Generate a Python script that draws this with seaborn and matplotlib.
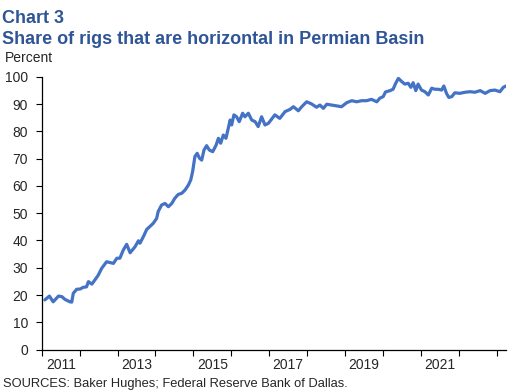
import numpy as np
import pandas as pd
import matplotlib
matplotlib.use("Agg")
import matplotlib.pyplot as plt
import seaborn as sns

# ---------------------------------------------------
# data (decimal years)
# ---------------------------------------------------
years = [
    2011.08, 2011.20, 2011.30, 2011.44, 2011.53, 2011.61, 2011.74, 2011.79, 2011.83, 2011.92,
    2012.01, 2012.09, 2012.18, 2012.23, 2012.32, 2012.40, 2012.49, 2012.58, 2012.71, 2012.80,
    2012.89, 2012.98, 2013.06, 2013.15, 2013.24, 2013.33, 2013.46, 2013.55, 2013.59, 2013.68,
    2013.77, 2013.85, 2013.94, 2014.03, 2014.07, 2014.16, 2014.25, 2014.34, 2014.43, 2014.51,
    2014.60, 2014.69, 2014.78, 2014.87, 2014.93, 2014.98, 2015.04, 2015.10, 2015.16, 2015.22,
    2015.28, 2015.35, 2015.42, 2015.51, 2015.60, 2015.66, 2015.72, 2015.79, 2015.86, 2015.92,
    2015.97, 2016.01, 2016.07, 2016.14, 2016.21, 2016.30, 2016.36, 2016.45, 2016.54, 2016.63,
    2016.71, 2016.80, 2016.89, 2016.98, 2017.15, 2017.28, 2017.42, 2017.55, 2017.64, 2017.77,
    2017.86, 2017.99, 2018.12, 2018.25, 2018.34, 2018.43, 2018.52, 2018.65, 2018.78, 2018.91,
    2019.05, 2019.18, 2019.31, 2019.44, 2019.57, 2019.70, 2019.84, 2019.92, 2020.01, 2020.07,
    2020.19, 2020.27, 2020.34, 2020.41, 2020.50, 2020.58, 2020.67, 2020.74, 2020.80, 2020.87,
    2020.93, 2021.02, 2021.11, 2021.20, 2021.29, 2021.37, 2021.46, 2021.55, 2021.61, 2021.68,
    2021.74, 2021.82, 2021.90, 2022.03, 2022.17, 2022.30, 2022.43, 2022.57, 2022.70, 2022.83,
    2022.96, 2023.09, 2023.18, 2023.25,
]
share = [
    18.2, 19.6, 17.5, 19.6, 19.4, 18.4, 17.5, 17.4, 20.6, 22.1,
    22.2, 22.8, 23.0, 24.9, 24.0, 25.5, 27.3, 29.8, 32.2, 31.9,
    31.6, 33.5, 33.5, 36.5, 38.6, 35.5, 37.7, 39.9, 39.0, 41.4,
    44.1, 45.1, 46.3, 48.1, 50.6, 53.0, 53.6, 52.4, 53.6, 55.5,
    56.9, 57.3, 58.5, 60.4, 62.2, 65.3, 70.8, 72.0, 70.2, 69.5,
    73.2, 74.8, 73.2, 72.6, 75.0, 77.5, 75.7, 78.7, 77.5, 81.2,
    84.2, 82.4, 86.1, 85.4, 83.6, 86.7, 85.4, 86.7, 84.2, 83.6,
    81.8, 85.4, 82.4, 83.0, 86.1, 84.8, 87.3, 88.1, 89.1, 87.6,
    89.1, 90.9, 90.1, 88.9, 89.7, 88.5, 90.0, 89.7, 89.4, 89.1,
    90.6, 91.3, 90.9, 91.3, 91.3, 91.8, 90.9, 92.2, 92.8, 94.5,
    95.0, 95.5, 97.7, 99.5, 98.3, 97.4, 97.7, 96.2, 97.9, 95.0,
    97.4, 95.2, 94.6, 93.4, 95.9, 95.5, 95.5, 95.2, 96.7, 94.0,
    92.5, 92.8, 94.2, 94.0, 94.4, 94.6, 94.4, 95.0, 94.0, 95.0,
    95.2, 94.6, 96.2, 96.7,
]
year_ticks = list(range(2011, 2024))
year_labels = ["2011", "2013", "2015", "2017", "2019", "2021"]
y_ticks = list(range(0, 101, 10))

df = pd.DataFrame({"year": years, "share": share})

# ---------------------------------------------------
# style
# ---------------------------------------------------
sns.set_style("ticks")
plt.rcParams["font.family"] = ["Liberation Sans", "DejaVu Sans"]

title_blue = "#2F5597"
line_blue = "#4472C4"

fig = plt.figure(figsize=(5.32, 3.92), dpi=100)
ax = fig.add_axes([0.0786, 0.1084, 0.8725, 0.6952])

sns.lineplot(data=df, x="year", y="share", ax=ax, color=line_blue, linewidth=2.3)

ax.set_xlim(2011, 2023.25)
ax.set_ylim(0, 100)
ax.set_xlabel("")
ax.set_ylabel("")

# year ticks at boundaries, labels centred inside the year
ax.set_xticks(year_ticks)
ax.set_xticklabels([])
ax.set_xticks([int(y) + 0.5 for y in year_labels], minor=True)
ax.set_xticklabels(year_labels, minor=True)
ax.tick_params(axis="x", which="major", length=4, width=0.8, color="black", direction="out")
ax.tick_params(axis="x", which="minor", length=0, pad=6, labelsize=10)

ax.set_yticks(y_ticks)
ax.tick_params(axis="y", length=4, width=0.8, color="black", pad=6, labelsize=10)

for side in ["top", "right"]:
    ax.spines[side].set_visible(False)
for side in ["left", "bottom"]:
    ax.spines[side].set_color("black")
    ax.spines[side].set_linewidth(0.9)

# ---------------------------------------------------
# text
# ---------------------------------------------------
fig.text(0.004, 0.942, "Chart 3", fontsize=13, fontweight="bold",
         color=title_blue, va="baseline", ha="left")
fig.text(0.004, 0.888, "Share of rigs that are horizontal in Permian Basin",
         fontsize=13, fontweight="bold", color=title_blue, va="baseline", ha="left")
fig.text(0.0094, 0.842, "Percent", fontsize=10, va="baseline", ha="left")
fig.text(0.006, 0.012, "SOURCES: Baker Hughes; Federal Reserve Bank of Dallas.",
         fontsize=9.3, va="baseline", ha="left")

fig.savefig("out.png", dpi=100)
